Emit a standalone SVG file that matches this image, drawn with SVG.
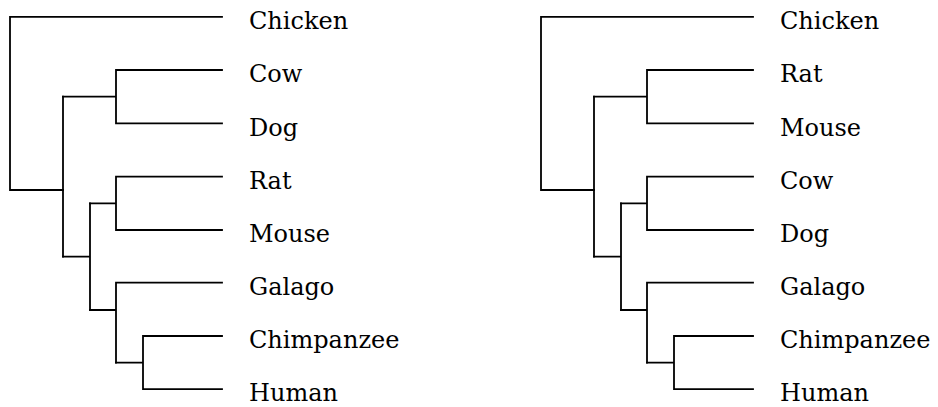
<svg xmlns="http://www.w3.org/2000/svg" width="938" height="407" viewBox="0 0 938 407">
<style>
.e{fill:none;stroke:#000;stroke-width:1.8;stroke-linecap:square;stroke-linejoin:miter}
text{font-family:'DejaVu Serif','Liberation Serif',serif;font-size:24px;fill:#000}
</style>
<rect width="938" height="407" fill="#fff"/>
<g id="connectors">
<g id="left-edges" class="e">
<path d="M222,16.8 H10 V190 H63"/>
<path d="M63,96.7 V256.7"/>
<path d="M63,96.7 H116 M116,70 V123.3 M116,70 H222 M116,123.3 H222"/>
<path d="M63,256.7 H90 M90,203.3 V310"/>
<path d="M90,203.3 H116 M116,176.7 V230 M116,176.7 H222 M116,230 H222"/>
<path d="M90,310 H116 M116,282.7 V362.7 M116,282.7 H222"/>
<path d="M116,362.7 H143 M143,336 V389.2 M143,336 H222 M143,389.2 H222"/>
</g>
<g id="right-edges" class="e" transform="translate(531,0)">
<path d="M222,16.8 H10 V190 H63"/>
<path d="M63,96.7 V256.7"/>
<path d="M63,96.7 H116 M116,70 V123.3 M116,70 H222 M116,123.3 H222"/>
<path d="M63,256.7 H90 M90,203.3 V310"/>
<path d="M90,203.3 H116 M116,176.7 V230 M116,176.7 H222 M116,230 H222"/>
<path d="M90,310 H116 M116,282.7 V362.7 M116,282.7 H222"/>
<path d="M116,362.7 H143 M143,336 V389.2 M143,336 H222 M143,389.2 H222"/>
</g>
</g>
<g id="left-tree">
<g id="L-chicken"><text x="249" y="29">Chicken</text></g>
<g id="L-cow"><text x="249" y="82">Cow</text></g>
<g id="L-dog"><text x="249" y="135.5">Dog</text></g>
<g id="L-rat"><text x="249" y="189">Rat</text></g>
<g id="L-mouse"><text x="249" y="242">Mouse</text></g>
<g id="L-galago"><text x="249" y="295">Galago</text></g>
<g id="L-chimp"><text x="249" y="348">Chimpanzee</text></g>
<g id="L-human"><text x="249" y="401">Human</text></g>
</g>
<g id="right-tree">
<g id="R-chicken"><text x="780" y="29">Chicken</text></g>
<g id="R-rat"><text x="780" y="82">Rat</text></g>
<g id="R-mouse"><text x="780" y="135.5">Mouse</text></g>
<g id="R-cow"><text x="780" y="189">Cow</text></g>
<g id="R-dog"><text x="780" y="242">Dog</text></g>
<g id="R-galago"><text x="780" y="295">Galago</text></g>
<g id="R-chimp"><text x="780" y="348">Chimpanzee</text></g>
<g id="R-human"><text x="780" y="401">Human</text></g>
</g>
</svg>
